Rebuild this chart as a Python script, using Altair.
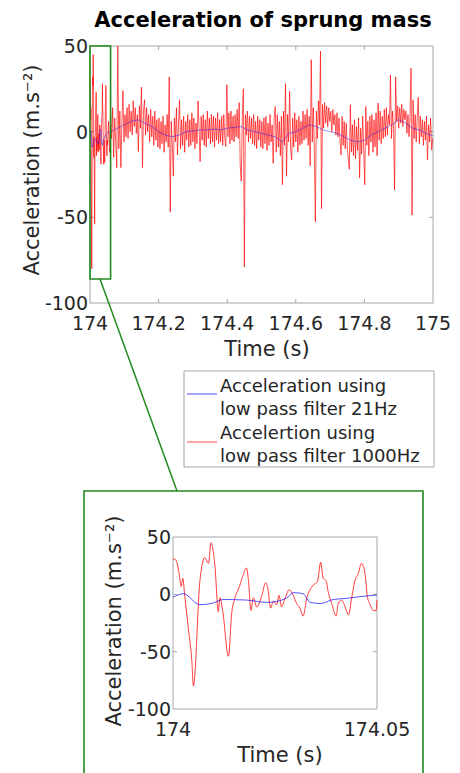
import altair as alt
import numpy as np
import pandas as pd

FONT = "DejaVu Sans"
INK = "#262626"
FRAME = "#a6a6a6"
GREEN = "#208a20"
RED = "#ff0000"
BLUE = "#0000ff"
W, H = 460, 773

# ---------------- data ----------------
MAIN_T_DOMAIN = [174.0, 175.0]
INSET_T_DOMAIN = [174.0, 174.05]
ACC_DOMAIN = [-100, 50]
MAIN_TICKS_T = [174.0, 174.2, 174.4, 174.6, 174.8, 175.0]
MAIN_TICK_LABELS = ["174", "174.2", "174.4", "174.6", "174.8", "175"]
INNER_TICKS_T = [174.2, 174.4, 174.6, 174.8]
INSET_TICKS_T = [174.0, 174.05]
INSET_TICK_LABELS = ["174", "174.05"]
ACC_TICKS = [-100, -50, 0, 50]
ACC_TICK_LABELS = ["-100", "-50", "0", "50"]
INNER_TICKS_A = [-50, 0]
ZOOM_T = [174.0, 174.06]
ZOOM_A = [-86, 50]
X_TITLE = "Time (s)"
Y_TITLE = "Acceleration (m.s⁻²)"
TITLE = "Acceleration of sprung mass"

# first 50 ms (ms after 174 s)
INSET_RED_MS = [0, 0.7, 1.5, 2.0, 2.4, 2.9, 3.8, 4.6, 5.0,
                6.6, 7.8, 8.7, 9.3, 10.3, 11.1, 11.5, 12.2, 13.6, 14.4,
                15.2, 16.3, 17.2, 18.0, 18.5, 19.1, 19.7, 20.5, 21.7, 22.7,
                23.3, 23.9, 24.6, 25.4, 26.0, 26.6, 27.5, 28.5, 29.5, 30.3,
                31.1, 31.9, 32.8, 33.6, 34.4, 35.4, 36.2, 36.8, 37.5, 38.1,
                38.9, 40.0, 40.5, 41.3, 42.2, 43.0, 43.8, 44.6, 45.4, 46.2,
                47.1, 47.6, 48.3, 49.1, 49.8, 50.0]
INSET_RED_V = [31, 30, 18, 7, 14, -2, -31, -57, -80,
               12, 32, 27, 45, 24, -15, -3, -15, -54, -16,
               -3, 7, 17, 23, 12, -14, -3, -11, -2, 10,
               4, -12, -6, -9, -1, -11, -3, 4, -1, -8,
               -12, -19, -3, 4, 8, 11, 28, 14, 12, 1,
               -8, -19, -8, -5, -11, -18, -3, 12, 18, 27,
               17, -1, -9, -14, -14, -5]
INSET_BLUE_MS = [0, 2.5, 6.6, 9.9, 12.3, 18, 23, 26.2, 28.3, 29.5, 31.9,
                 33.6, 36.2, 39.3, 42.6, 45.8, 50]
INSET_BLUE_V = [-2.6, 0.5, -9, -7.5, -4.5, -5, -7, -5.5, -2, 1.5, 0.5,
                -7, -8, -4.5, -3.5, -2, -0.5]

# rest of the second, sampled every 3 ms from 174.051 s
MAIN_RED_START = 174.051
MAIN_RED_STEP = 0.003
MAIN_RED_V = [
    -8, 6, -12, 10, -4, 14, -15, 8, -6, -21,
    50, -10, 12, -21, 6, 24, -6, 10, -3, 14,
    -4, 16, 0, 12, -2, 18, 3, 14, -1, 10,
    -11.6, 15, 2, 26, -21, 12, 18.6, -2, 14, 0,
    10, -6, 13, -3, 9, -8, 12, -5, 7, -9,
    8, -10, 6, -7, 9, -12, 4, -6, 10, -9,
    32, -47, 6, -8, -26, 8, -6, 14, -13.6, 5,
    18.6, -10, 7, -8, 9, -12, 6, -5, 10, -9,
    7, -8, 11, -6, 8, -10, 5, -7, 18, 3,
    -17.5, 9, -5, 10, -8, 7, -9, 12, -4, 8,
    -7, 10, -6, 9, -9, 8, -5, 11, -7, 7,
    -6, 9, -8, 10, -4, -8.7, 27.4, -3, 11, -7,
    12, -5, 9, -6, 10, -3, 13, -4, 17, -20,
    -29, 8, 25, -79, 10, -2, 12, -6, 9, -4,
    8, -7, 10, -8, 6, -10, 9, -5, 7, -9,
    6, -10, 8, -7, 9, -11, 5, -8, 10, -6,
    4, -18.5, 8, 14.7, -12, 10, -9, 6, -14, 9,
    -31, 12, -8, 28, -26, 10, -6, 23.5, -10, -16.5,
    8, -9, 11, -6, 7, -12, 9, -8, 6, -7,
    12, -5, 10, -4, 13, -8, 9, -20, 42, -6,
    14, -10, -52.6, 12, -4, 18, 4, 47, -45, 16,
    2, 17, 5, 15, 3, 14, 6, 12, 0, 13,
    4, 10, -2, 11, -3, 8, -6, -13.6, 9, -8,
    6, -10, 5, -9, -15.5, -22, 15.7, -12, 4, -14,
    7, -16, 3, -11, 8, -27, 2, -13, 9, -10,
    -31, 14.7, -8, 6, -14, 9, -6, 10, -12, 7,
    -9, 11, -14, 16.7, -5, 12, -7, 9, -4, 13,
    -3, 14, -2, 10, 4, 33, -4, 12, 2, -34,
    32, 6, 15, 2, 14, 5, 16, 3, 13, 7,
    12, -1, 10, -3, 9, 37, -48.7, 18.6, -4, 10,
    -6, 8, 20, -7, 9, -3, 7, -8, 6, -5,
    9, -16.5, 4, -6, 8, -10.7, -4,
]
MAIN_BLUE_T = [174.06, 174.08, 174.10, 174.12, 174.14, 174.16, 174.18, 174.20,
               174.22, 174.24, 174.26, 174.28, 174.30, 174.32, 174.34, 174.36,
               174.38, 174.40, 174.42, 174.44, 174.46, 174.48, 174.50, 174.52,
               174.54, 174.56, 174.58, 174.60, 174.62, 174.64, 174.66, 174.68,
               174.70, 174.72, 174.74, 174.76, 174.78, 174.80, 174.82, 174.84,
               174.86, 174.88, 174.90, 174.92, 174.94, 174.96, 174.98, 175.00]
MAIN_BLUE_V = [0, 2, 4, 6, 7, 5, 3, 0, -2, -3,
               -2, 0, 0.5, 1, 1, 1.5, 1, 2, 2.5, 3,
               1, 0, -1, -2, -3, -6, -1, 0, 2, 4,
               3, 1, 0, -1, -3, -5, -6, -5, -2, 0,
               2, 4, 7, 5, 2, 1, -1, -2.5]

LEGEND_1 = ["Acceleration using", "low pass filter 21Hz"]
LEGEND_2 = ["Accelertion using", "low pass filter 1000Hz"]

inset_red_t = [174.0 + ms / 1000.0 for ms in INSET_RED_MS]
inset_blue_t = [174.0 + ms / 1000.0 for ms in INSET_BLUE_MS]
main_red_t = [MAIN_RED_START + MAIN_RED_STEP * i for i in range(len(MAIN_RED_V))]

df_main_red = pd.DataFrame({"t": inset_red_t + main_red_t, "a": INSET_RED_V + MAIN_RED_V})
df_main_blue = pd.DataFrame({"t": inset_blue_t + MAIN_BLUE_T, "a": INSET_BLUE_V + MAIN_BLUE_V})
df_inset_red = pd.DataFrame({"t": inset_red_t, "a": INSET_RED_V})
df_inset_blue = pd.DataFrame({"t": inset_blue_t, "a": INSET_BLUE_V})

# ---------------- layout (pixels) ----------------
MX0, MX1, MY0, MY1 = 90, 433, 303, 46      # main plot area
IX0, IX1, IY0, IY1 = 173, 377, 709, 537    # inset plot area
TICK_PX = 4
LABEL_FS = 19
TITLE_FS = 21


def sc(domain, r0, r1):
    return alt.Scale(domain=domain, range=[r0, r1], nice=False, zero=False)


def panel(t_dom, x0, x1, y0, y1, red_df, blue_df, ticks_t, tick_labels, inner_t,
          smooth, xlab_y, xtitle_x, ytitle_x, ytitle_y, extra=None):
    xs = sc(t_dom, x0, x1)
    ys = sc(ACC_DOMAIN, y0, y1)
    X = lambda f: alt.X(f, scale=xs, axis=None)
    Y = lambda f: alt.Y(f, scale=ys, axis=None)
    dt = TICK_PX * (t_dom[1] - t_dom[0]) / (x1 - x0)
    da = TICK_PX * (ACC_DOMAIN[1] - ACC_DOMAIN[0]) / (y0 - y1)
    box = alt.Chart(pd.DataFrame({"t0": [t_dom[0]], "t1": [t_dom[1]],
                                  "a0": [ACC_DOMAIN[0]], "a1": [ACC_DOMAIN[1]]})).mark_rect(
        fillOpacity=0, stroke=FRAME, strokeWidth=1).encode(
        x=X("t0:Q"), x2="t1:Q", y=Y("a0:Q"), y2="a1:Q")
    layers = [box]
    if inner_t:
        n = len(inner_t)
        tb = pd.DataFrame({"t": inner_t + inner_t,
                           "a0": [ACC_DOMAIN[0]] * n + [ACC_DOMAIN[1]] * n,
                           "a1": [ACC_DOMAIN[0] + da] * n + [ACC_DOMAIN[1] - da] * n})
        layers.append(alt.Chart(tb).mark_rule(color=FRAME, strokeWidth=1).encode(
            x=X("t:Q"), y=Y("a0:Q"), y2="a1:Q"))
    ta = pd.DataFrame({"a": INNER_TICKS_A + INNER_TICKS_A,
                       "t0": [t_dom[0]] * 2 + [t_dom[1]] * 2,
                       "t1": [t_dom[0] + dt] * 2 + [t_dom[1] - dt] * 2})
    layers.append(alt.Chart(ta).mark_rule(color=FRAME, strokeWidth=1).encode(
        x=X("t0:Q"), x2="t1:Q", y=Y("a:Q")))
    interp = "monotone" if smooth else "linear"
    layers.append(alt.Chart(red_df).mark_line(
        color=RED, strokeWidth=0.9 if smooth else 0.65, opacity=0.85 if smooth else 1,
        interpolate=interp).encode(x=X("t:Q"), y=Y("a:Q")))
    layers.append(alt.Chart(blue_df).mark_line(
        color=BLUE, strokeWidth=0.9 if smooth else 0.6, opacity=0.75 if smooth else 0.7,
        interpolate=interp).encode(x=X("t:Q"), y=Y("a:Q")))
    if extra is not None:
        layers.append(extra(X, Y))
    # tick labels
    xl = pd.DataFrame({"t": ticks_t, "lab": tick_labels})
    layers.append(alt.Chart(xl).mark_text(font=FONT, fontSize=LABEL_FS, color=INK, align="center",
                                          baseline="alphabetic").encode(
        x=X("t:Q"), y=alt.value(xlab_y), text="lab:N"))
    yl = pd.DataFrame({"a": ACC_TICKS, "lab": ACC_TICK_LABELS})
    layers.append(alt.Chart(yl).mark_text(font=FONT, fontSize=LABEL_FS, color=INK, align="right",
                                          baseline="middle", dy=1).encode(
        x=alt.value(x0 - 2), y=Y("a:Q"), text="lab:N"))
    one = pd.DataFrame({"k": [0]})
    layers.append(alt.Chart(one).mark_text(text=X_TITLE, font=FONT, fontSize=TITLE_FS, color=INK,
                                           align="center", baseline="alphabetic").encode(
        x=alt.value(xtitle_x), y=alt.value(y0 + 53)))
    layers.append(alt.Chart(one).mark_text(text=Y_TITLE, font=FONT, fontSize=TITLE_FS, color=INK,
                                           align="center", baseline="alphabetic", angle=270).encode(
        x=alt.value(ytitle_x), y=alt.value(ytitle_y)))
    return alt.layer(*layers)


def zoom_rect(X, Y):
    return alt.Chart(pd.DataFrame({"t0": [ZOOM_T[0]], "t1": [ZOOM_T[1]],
                                   "a0": [ZOOM_A[0]], "a1": [ZOOM_A[1]]})).mark_rect(
        fillOpacity=0, stroke=GREEN, strokeWidth=1.6).encode(
        x=X("t0:Q"), x2="t1:Q", y=Y("a0:Q"), y2="a1:Q")


main = panel(MAIN_T_DOMAIN, MX0, MX1, MY0, MY1, df_main_red, df_main_blue,
             MAIN_TICKS_T, MAIN_TICK_LABELS, INNER_TICKS_T, False,
             329.5, 267, 38.5, 170, extra=zoom_rect)
inset = panel(INSET_T_DOMAIN, IX0, IX1, IY0, IY1, df_inset_red, df_inset_blue,
              INSET_TICKS_T, INSET_TICK_LABELS, [], True,
              735.5, 280, 120.5, 621)

one = pd.DataFrame({"k": [0]})
title = alt.Chart(one).mark_text(text=TITLE, font=FONT, fontSize=21,
                                 fontWeight="bold", color="#000000", align="center",
                                 baseline="alphabetic").encode(x=alt.value(263), y=alt.value(27))
connector = alt.Chart(one).mark_rule(color=GREEN, strokeWidth=1.5).encode(
    x=alt.value(100), y=alt.value(279), x2=alt.value(177), y2=alt.value(491))
inset_frame = alt.Chart(one).mark_rect(fillOpacity=0, stroke=GREEN, strokeWidth=1.6).encode(
    x=alt.value(84), x2=alt.value(423), y=alt.value(491), y2=alt.value(800))
legend_box = alt.Chart(one).mark_rect(fill="#ffffff", stroke=FRAME, strokeWidth=1).encode(
    x=alt.value(184), x2=alt.value(434), y=alt.value(371), y2=alt.value(467))
legend_blue = alt.Chart(one).mark_rule(color=BLUE, strokeWidth=1, opacity=0.7).encode(
    x=alt.value(187), x2=alt.value(217), y=alt.value(394))
legend_red = alt.Chart(one).mark_rule(color=RED, strokeWidth=1, opacity=0.7).encode(
    x=alt.value(187), x2=alt.value(217), y=alt.value(442))


def legend_text(txt, y):
    return alt.Chart(one).mark_text(text=txt, font=FONT, fontSize=18, color=INK, align="left",
                                    baseline="alphabetic").encode(x=alt.value(220), y=alt.value(y))


legend_texts = [legend_text(LEGEND_1[0], 391.5), legend_text(LEGEND_1[1], 415),
                legend_text(LEGEND_2[0], 438.5), legend_text(LEGEND_2[1], 462)]

chart = alt.layer(
    main, inset, title, connector, inset_frame, legend_box, legend_blue, legend_red,
    *legend_texts
).resolve_scale(x="independent", y="independent").properties(
    width=W, height=H, autosize=alt.AutoSizeParams(type="none"), padding=0
).configure_view(strokeWidth=0)

chart.save("out.html", embed_options={"renderer": "svg", "actions": False})
